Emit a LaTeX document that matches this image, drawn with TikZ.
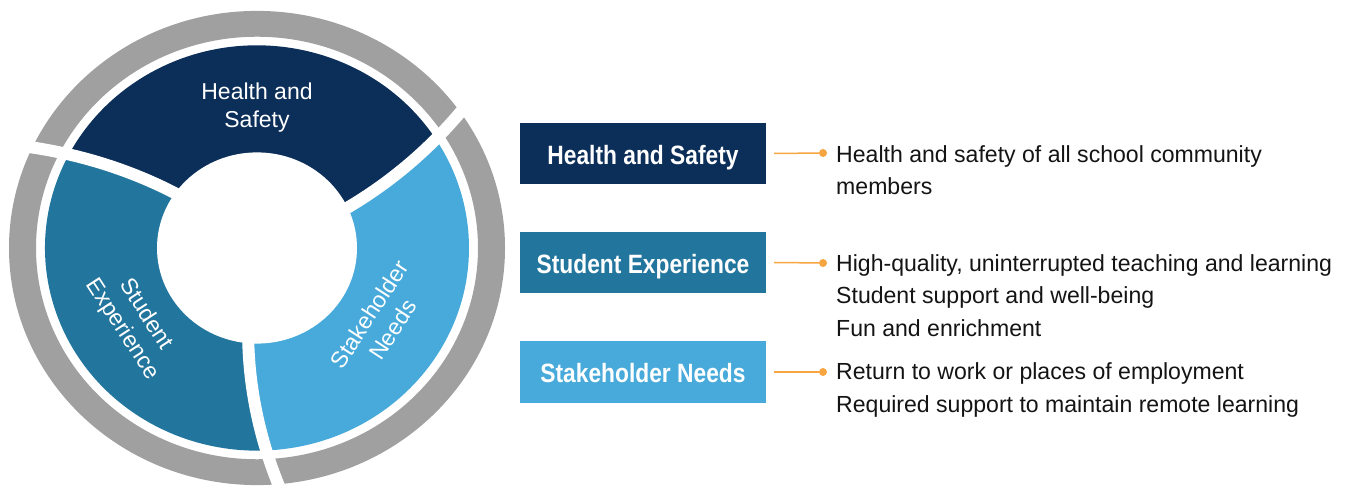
\documentclass[tikz,border=0pt]{standalone}
\usepackage{fontspec}
\setmainfont{Liberation Sans}
\newfontfamily\listfont[FakeStretch=0.99]{Liberation Sans}
\newfontfamily\tagfont[FakeStretch=0.86]{Liberation Sans}
\definecolor{navy}{RGB}{12,47,90}
\definecolor{teal}{RGB}{34,118,158}
\definecolor{sky}{RGB}{72,170,218}
\definecolor{ringgrey}{RGB}{160,160,160}
\definecolor{accent}{RGB}{247,165,64}
\definecolor{ink}{RGB}{20,20,20}
\begin{document}
\begin{tikzpicture}[x=1pt,y=1pt,
  ringlabel/.style={text=white, align=center, inner sep=0pt,
    font=\fontsize{23}{28}\selectfont},
  tagbox/.style={minimum width=246pt, minimum height=61pt, inner sep=0pt,
    text height=22pt, text depth=0pt,
    text=white, font=\tagfont\bfseries\fontsize{26.5}{30}\selectfont},
  item/.style={anchor=base west, inner sep=0pt, text=ink,
    font=\listfont\fontsize{23.3}{30}\selectfont},
  link/.style={draw=accent, line width=1.5pt},
  dot/.style={circle, fill=accent, inner sep=0pt, minimum size=8pt},
  gap/.style={draw=white, line width=12pt}]
\useasboundingbox (0,0) rectangle (1370,486);

% ---- ring: grey outer band, three swirl-bounded sectors, white hub ----
\begin{scope}[shift={(257,238)}, yscale=0.956]
  \fill[ringgrey, even odd rule] (0,0) circle[radius=248] (0,0) circle[radius=221];
  \fill[navy] (0,0)
    -- plot[variable=\r, domain=0:212, samples=30] ({25+0.067*(\r-100)}:\r)
    arc[start angle={25+0.067*112}, end angle={145+0.067*112}, radius=212]
    -- plot[variable=\r, domain=212:0, samples=30] ({145+0.067*(\r-100)}:\r) -- cycle;
  \fill[teal] (0,0)
    -- plot[variable=\r, domain=0:212, samples=30] ({145+0.067*(\r-100)}:\r)
    arc[start angle={145+0.067*112}, end angle={265+0.067*112}, radius=212]
    -- plot[variable=\r, domain=212:0, samples=30] ({265+0.067*(\r-100)}:\r) -- cycle;
  \fill[sky] (0,0)
    -- plot[variable=\r, domain=0:212, samples=30] ({265+0.067*(\r-100)}:\r)
    arc[start angle={265+0.067*112}, end angle={385+0.067*112}, radius=212]
    -- plot[variable=\r, domain=212:0, samples=30] ({385+0.067*(\r-100)}:\r) -- cycle;
  \fill[white] (0,0) circle[radius=100];
  % white separators
  \foreach \b in {25,145,265}
    \draw[gap] plot[variable=\r, domain=90:262, samples=30] ({\b+0.067*(\r-100)}:\r);
\end{scope}

\node[ringlabel] (ringhs) at (257,378) {Health and\\Safety};
\node[ringlabel, rotate=-57] (ringse) at (134,164) {Student\\Experience};
\node[ringlabel, rotate=57] (ringsn) at (381,164) {Stakeholder\\Needs};

% ---- legend boxes ----
\node[tagbox, fill=navy] (hs) at (643,332.5) {Health and Safety};
\node[tagbox, fill=teal] (se) at (643,223.5) {Student Experience};
\node[tagbox, fill=sky, minimum height=62pt] (sn) at (643,114) {Stakeholder Needs};

\node[dot] (d1) at (823,333) {};
\node[dot] (d2) at (823,223) {};
\node[dot] (d3) at (823,114) {};
\draw[link] ([xshift=8pt]hs.east) -- (d1);
\draw[link] ([xshift=8pt]se.east) -- (d2);
\draw[link] ([xshift=8pt]sn.east) -- (d3);

% ---- descriptions ----
\node[item] (hs1) at (836,323) {Health and safety of all school community};
\node[item] (hs2) at (836,291) {members};
\node[item] (se1) at (836,214) {High-quality, uninterrupted teaching and learning};
\node[item] (se2) at (836,182) {Student support and well-being};
\node[item] (se3) at (836,149) {Fun and enrichment};
\node[item] (sn1) at (836,106) {Return to work or places of employment};
\node[item] (sn2) at (836,73) {Required support to maintain remote learning};
\end{tikzpicture}
\end{document}
